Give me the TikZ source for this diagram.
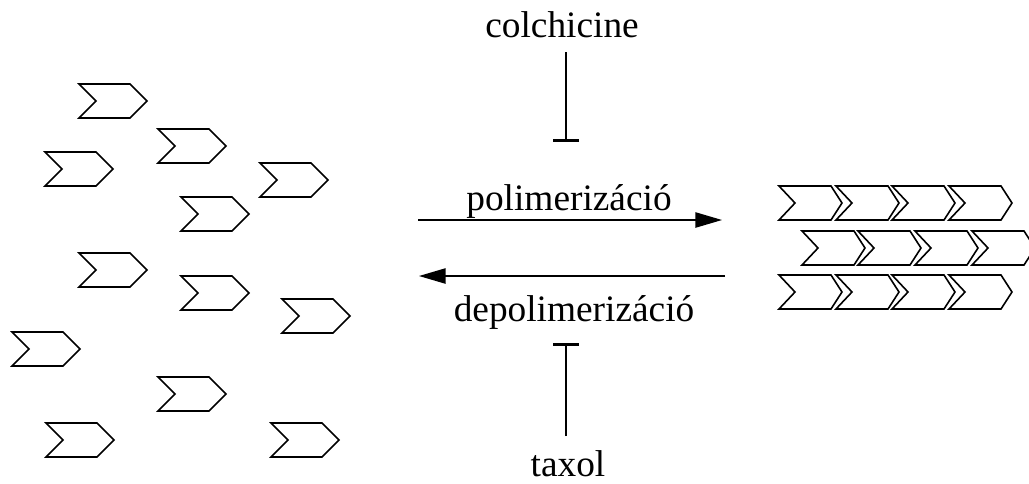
\documentclass[tikz,border=0pt]{standalone}
\usepackage{fontspec}
\setmainfont{Liberation Serif}
\usetikzlibrary{arrows.meta}

\tikzset{
  chevline/.style={line width=1.2pt, line join=miter, yscale=-1},
  lbl/.style={font=\fontsize{28}{33}\selectfont, inner sep=0pt, anchor=base},
  react/.style={line width=1.1pt, -{Triangle[length=20pt, width=11.5pt]}},
  inhib/.style={line width=1.1pt, -{Bar[width=19.5pt, line width=2.3pt]}},
  pics/free/.style={code={\draw[chevline] (0,0) -- (51,0) -- (68,17) -- (51,34) -- (0,34) -- (17,17) -- cycle;}},
  pics/bound/.style={code={\draw[chevline] (0,0) -- (52,0) -- (63,17) -- (52,34) -- (0,34) -- (16,17) -- cycle;}}
}

\begin{document}
\begin{tikzpicture}[x=0.75pt,y=0.75pt,yscale=-1,xscale=1]
\useasboundingbox (0,0) rectangle (1029,483);

%Shape: free tubulin dimers
\pic (f1) at (79,84) {free};
\pic (f2) at (158,129) {free};
\pic (f3) at (45,152) {free};
\pic (f4) at (260,163) {free};
\pic (f5) at (181,197) {free};
\pic (f6) at (79,253) {free};
\pic (f7) at (181,276) {free};
\pic (f8) at (282,299) {free};
\pic (f9) at (12,332) {free};
\pic (f10) at (158,377) {free};
\pic (f11) at (46,423) {free};
\pic (f12) at (271,423) {free};

%Shape: microtubule, row 1
\pic (a1) at (779,186) {bound};
\pic (a2) at (836,186) {bound};
\pic (a3) at (892,186) {bound};
\pic (a4) at (949,186) {bound};
%Shape: microtubule, row 2
\pic (b1) at (802,231) {bound};
\pic (b2) at (858,231) {bound};
\pic (b3) at (915,231) {bound};
\pic (b4) at (972,231) {bound};
%Shape: microtubule, row 3
\pic (c1) at (779,275) {bound};
\pic (c2) at (836,275) {bound};
\pic (c3) at (892,275) {bound};
\pic (c4) at (949,275) {bound};

% Text Node
\node [lbl] (colch) at (562,37) {colchicine};
% Text Node
\node [lbl] (poly) at (569,210) {polimerizáció};
% Text Node
\node [lbl] (depoly) at (574,321) {depolimerizáció};
% Text Node
\node [lbl] (taxol) at (568,476) {taxol};

%Straight Lines: reaction arrows
\coordinate (polyL) at (418,220);
\coordinate (polyR) at (722,220);
\coordinate (depolyR) at (725,276);
\coordinate (depolyL) at (419,276);
\draw [react] (polyL) -- (polyR);
\draw [react] (depolyR) -- (depolyL);

%Straight Lines: inhibitions
\coordinate (colchEnd) at (566,52);
\coordinate (colchBar) at (566,142);
\coordinate (taxolEnd) at (566,436);
\coordinate (taxolBar) at (566,343);
\draw [inhib] (colchEnd) -- (colchBar);
\draw [inhib] (taxolEnd) -- (taxolBar);

\end{tikzpicture}
\end{document}
